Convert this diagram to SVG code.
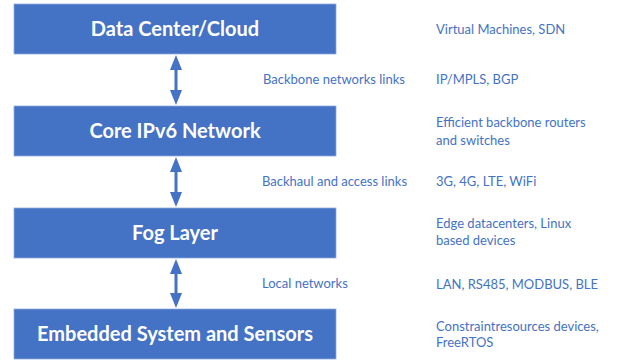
<svg xmlns="http://www.w3.org/2000/svg" width="619" height="361" viewBox="0 0 619 361">
<style>
.box{fill:#4472C4;stroke:#8FAADC;stroke-width:0.8}
.t{font-family:Lato,"Liberation Sans",sans-serif;font-weight:bold;font-size:20px;fill:#fff;text-anchor:middle}
.l{font-family:Lato,"Liberation Sans",sans-serif;font-size:13px;fill:#4472C4}
.sh{stroke:#4472C4;stroke-width:3}
.hd{fill:#4472C4}
</style>
<rect width="619" height="361" fill="#fff"/>
<g id="datacenter"><rect class="box" x="14" y="4" width="322" height="50"/><text class="t" x="175" y="36">Data Center/Cloud</text></g>
<g id="core"><rect class="box" x="14" y="106" width="322" height="50"/><text class="t" x="175" y="138">Core IPv6 Network</text></g>
<g id="fog"><rect class="box" x="14" y="208" width="322" height="50"/><text class="t" x="175" y="240">Fog Layer</text></g>
<g id="embedded"><rect class="box" x="14" y="309" width="322" height="50"/><text class="t" x="175" y="341">Embedded System and Sensors</text></g>
<g id="connectors">
<line class="sh" x1="176" y1="66" x2="176" y2="94"/><polygon class="hd" points="176,55 170,70 182,70"/><polygon class="hd" points="176,105 170,90 182,90"/>
<line class="sh" x1="176" y1="168" x2="176" y2="196"/><polygon class="hd" points="176,157 170,172 182,172"/><polygon class="hd" points="176,207 170,192 182,192"/>
<line class="sh" x1="176" y1="270" x2="176" y2="297"/><polygon class="hd" points="176,259 170,274 182,274"/><polygon class="hd" points="176,308 170,293 182,293"/>
</g>
<g id="labels">
<text class="l" x="263" y="84">Backbone networks links</text>
<text class="l" x="262" y="186">Backhaul and access links</text>
<text class="l" x="262" y="288">Local networks</text>
<text class="l" x="436" y="34">Virtual Machines, SDN</text>
<text class="l" x="436" y="84">IP/MPLS, BGP</text>
<text class="l" x="436" y="127">Efficient backbone routers</text>
<text class="l" x="436" y="145">and switches</text>
<text class="l" x="436" y="186">3G, 4G, LTE, WiFi</text>
<text class="l" x="436" y="228">Edge datacenters, Linux</text>
<text class="l" x="436" y="245">based devices</text>
<text class="l" x="436" y="289">LAN, RS485, MODBUS, BLE</text>
<text class="l" x="436" y="331">Constraintresources devices,</text>
<text class="l" x="436" y="347">FreeRTOS</text>
</g>
</svg>
